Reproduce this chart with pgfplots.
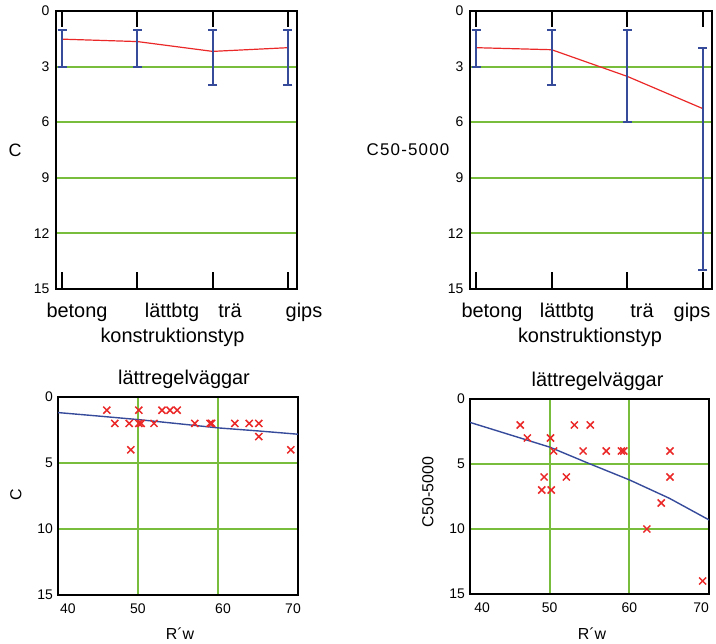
\documentclass[border=0pt]{standalone}
\usepackage{fontspec}
\setmainfont{Liberation Sans}
\usepackage{pgfplots}
\pgfplotsset{compat=1.18}
\definecolor{gridgreen}{RGB}{120,190,60}
\definecolor{ebblue}{RGB}{55,75,155}
\definecolor{mred}{RGB}{235,40,40}
\pgfplotsset{
  topstyle/.style={anchor=south west, width=241bp, height=278bp, scale only axis,
    xmin=-0.08, xmax=3.12, ymin=0, ymax=15, y dir=reverse,
    ytick={0,3,6,9,12,15}, ymajorgrids, major grid style={draw=gridgreen, line width=2bp},
    xtick={0,1,2,3}, xticklabels={}, tick style={draw=none},
    axis line style={black, line width=1.8bp},
    yticklabel style={font=\fontsize{14}{16}\selectfont, xshift=-3bp},
    /pgf/number format/assume math mode=true},
  botstyle/.style={anchor=south west, scale only axis,
    xmin=40, xmax=70, ymin=0, ymax=15, y dir=reverse,
    xtick={40,50,60,70}, ytick={0,5,10,15}, grid=major,
    major grid style={draw=gridgreen, line width=2bp}, tick style={draw=none},
    axis line style={black, line width=1.8bp},
    ticklabel style={font=\fontsize{14}{16}\selectfont},
    yticklabel style={xshift=-1.5bp}, xticklabel style={yshift=-5bp},
    /pgf/number format/assume math mode=true},
  meanline/.style={mred, line width=1.2bp, mark=none, error bars/.cd, y dir=both, y explicit,
    error bar style={draw=ebblue, line width=2bp},
    error mark options={draw=ebblue, rotate=90, mark size=4.5bp, line width=2bp}},
}
\newcommand{\cattick}{%
  \pgfplotsinvokeforeach{0,1,2,3}{%
    \draw[black, line width=2bp] (axis cs:##1,0) -- ++(0pt,-16bp);
    \draw[black, line width=2bp] (axis cs:##1,15) -- ++(0pt,17bp);}}
\begin{document}
\begin{tikzpicture}[x=1bp,y=1bp]
\path[use as bounding box] (0,0) rectangle (716,644);
% ---------- top left
\begin{axis}[topstyle, at={(56bp,355bp)}]
\cattick
\addplot[meanline] coordinates {
 (0,1.52) += (0,1.48) -= (0,0.52)
 (1,1.65) += (0,1.35) -= (0,0.65)
 (2,2.18) += (0,1.82) -= (0,1.18)
 (3,1.98) += (0,2.02) -= (0,0.98)
};
\end{axis}
% ---------- top right
\begin{axis}[topstyle, at={(470bp,355bp)}, width=242bp]
\cattick
\addplot[meanline] coordinates {
 (0,1.98) += (0,1.02) -= (0,0.98)
 (1,2.09) += (0,1.91) -= (0,1.09)
 (2,3.53) += (0,2.47) -= (0,2.53)
 (3,5.27) += (0,8.73) -= (0,3.27)
};
\end{axis}
% ---------- bottom left
\begin{axis}[botstyle, at={(58bp,49bp)}, width=240bp, height=198bp,
  xticklabels={\hspace*{20bp}40,50,\hspace*{10bp}60,70\hspace*{10bp}}]
\addplot[ebblue, line width=1.4bp, mark=none] coordinates {
 (40,1.18) (45,1.44) (50,1.71) (55,2.02) (60,2.34) (65,2.57) (70,2.82)};
\addplot[only marks, mark=x, mark size=5bp, mark options={mred, line width=1.5bp}] coordinates {
 (46.1,1) (47.1,2) (48.9,2) (49.1,4) (50.1,1) (50.1,2) (50.4,2) (52.0,2)
 (53.0,1) (54.0,1) (54.9,1) (57.1,2) (59.0,2) (59.2,2) (62.1,2) (63.9,2)
 (65.1,2) (65.1,3) (69.1,4)};
\end{axis}
% ---------- bottom right
\begin{axis}[botstyle, at={(470bp,50bp)}, width=239bp, height=195bp,
  xticklabels={\hspace*{24bp}40,50,60,70\hspace*{16bp}}]
\addplot[ebblue, line width=1.4bp, mark=none] coordinates {
 (40,1.8) (45,2.75) (50,3.7) (55,4.98) (60,6.22) (65,7.63) (70,9.3)};
\addplot[only marks, mark=x, mark size=5bp, mark options={mred, line width=1.5bp}] coordinates {
 (46.3,2) (47.2,3) (49.3,6) (49.0,7) (50.1,3) (50.5,4) (50.2,7) (52.1,6)
 (53.1,2) (54.2,4) (55.1,2) (57.1,4) (59.0,4) (59.3,4) (62.2,10) (64.0,8)
 (65.1,4) (65.1,6) (69.2,14)};
\end{axis}
% ---------- labels
\begin{scope}[every node/.style={inner sep=0pt, font=\fontsize{20}{22}\selectfont, anchor=base}]
\node at (77,326) {betong};
\node at (172,326) {lättbtg};
\node at (230,326) {trä};
\node at (304,326) {gips};
\node at (172.5,301) {konstruktionstyp};
\node at (492,326) {betong};
\node at (567,326) {lättbtg};
\node at (642,326) {trä};
\node at (692,326) {gips};
\node at (590,301) {konstruktionstyp};
\node at (184,259) {lättregelväggar};
\node at (597.5,257) {lättregelväggar};
\end{scope}
\node[inner sep=0pt, font=\fontsize{18}{20}\selectfont] at (15,494) {C};
\node[inner sep=0pt, font=\fontsize{17}{20}\selectfont\addfontfeature{LetterSpace=7}] at (408,494) {C50-5000};
\node[inner sep=0pt, anchor=base, font=\fontsize{16}{18}\selectfont] at (180,4) {R´w};
\node[inner sep=0pt, anchor=base, font=\fontsize{16}{18}\selectfont] at (592,4) {R´w};
\node[inner sep=0pt, rotate=90, font=\fontsize{16}{18}\selectfont] at (16,149) {C};
\node[inner sep=0pt, rotate=90, font=\fontsize{16}{18}\selectfont] at (428,152) {C50-5000};
\end{tikzpicture}
\end{document}
